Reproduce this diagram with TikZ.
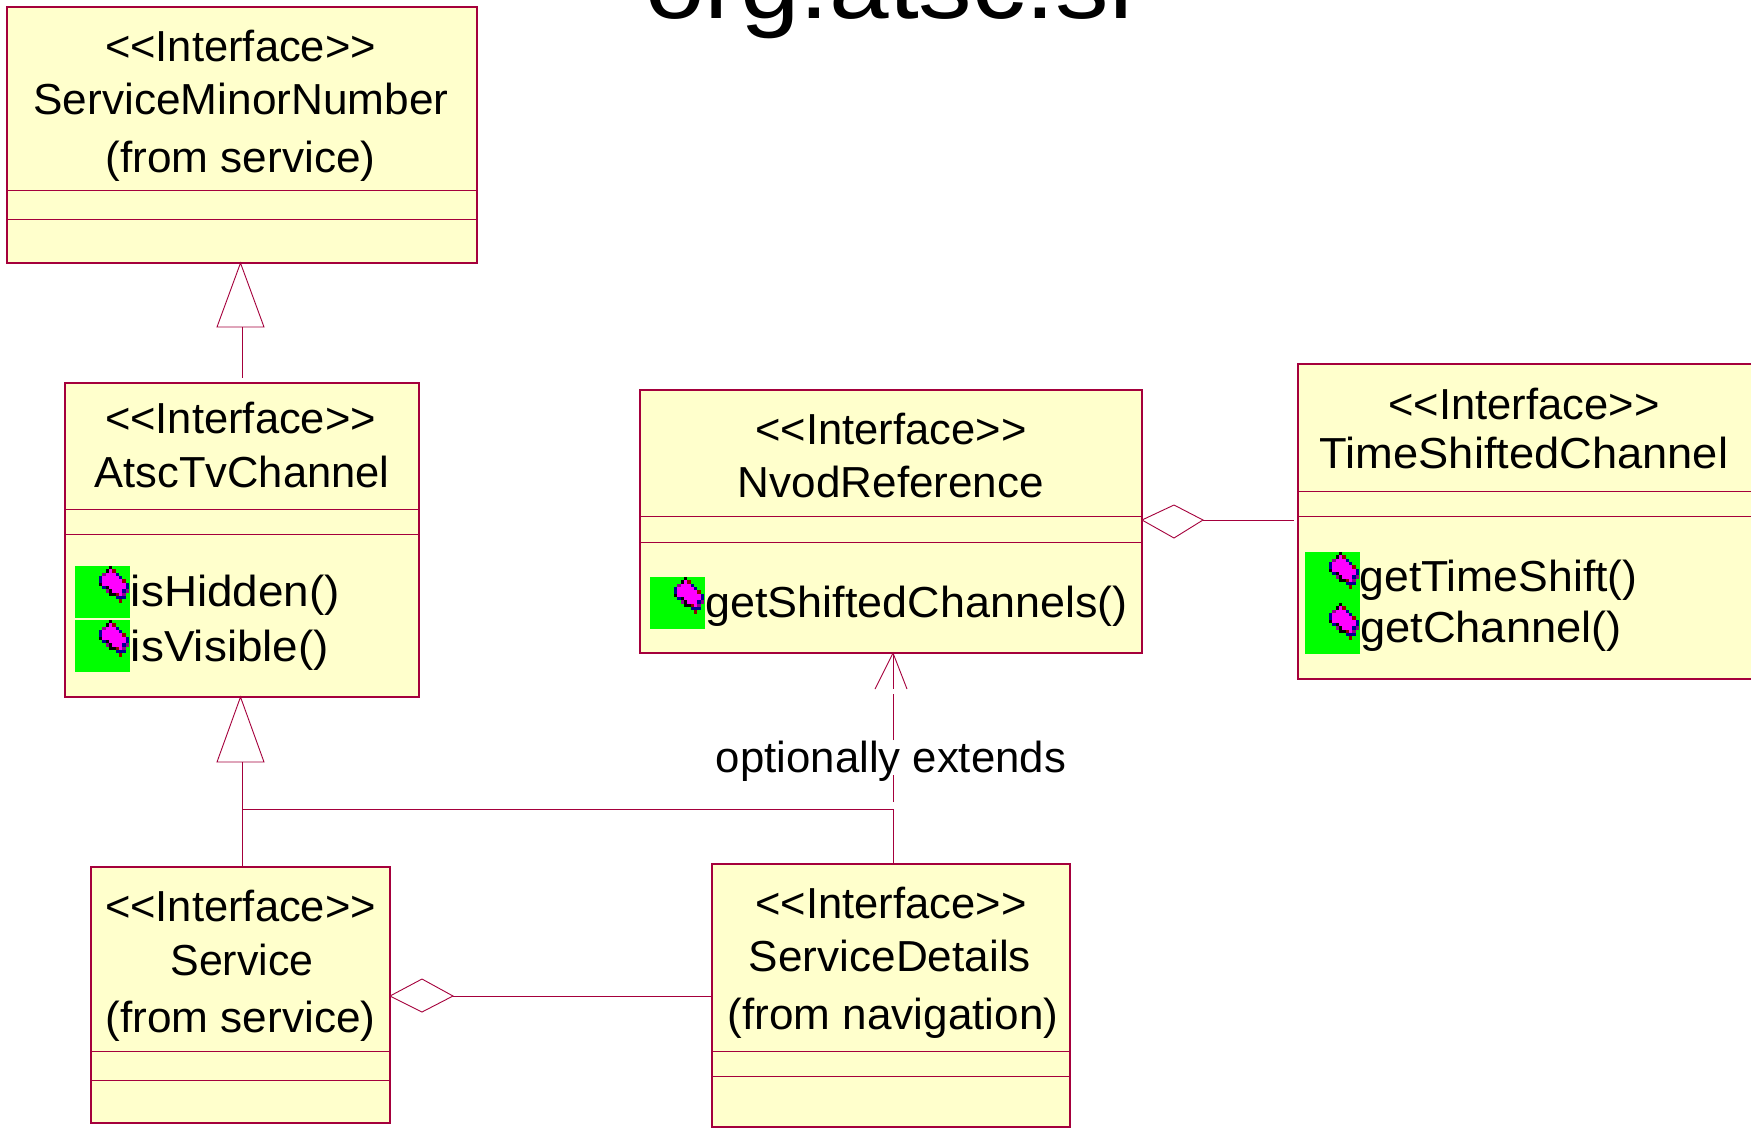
\documentclass[tikz,border=0pt]{standalone}
\usepackage{fontspec}
\setmainfont{Liberation Sans}
\definecolor{umlline}{HTML}{A5003C}
\definecolor{umlfill}{HTML}{FFFFCC}
\definecolor{icgreen}{HTML}{00FF00}
\definecolor{icmag}{HTML}{FF00FF}
\definecolor{icblue}{HTML}{000090}
\definecolor{icred}{HTML}{900000}
\definecolor{icpur}{HTML}{900090}
\tikzset{
  classbox/.style={draw=umlline,fill=umlfill,line width=1.3pt,anchor=north west,inner sep=0pt,outer sep=0pt},
  sep/.style={draw=umlline,line width=0.9pt},
  conn/.style={draw=umlline,line width=0.9pt},
  tl/.style={anchor=base,inner sep=0pt,outer sep=0pt,text=black,font=\fontsize{43.4}{48}\selectfont},
  greenbox/.style={fill=icgreen},
  opicon/.pic={
    \foreach \px/\py/\pc in {3/0/black,2/1/black,3/1/icmag,4/1/icred,
      1/2/icpur,2/2/icmag,3/2/icmag,4/2/icmag,5/2/icblue,
      0/3/icblue,1/3/icmag,2/3/icmag,3/3/icmag,4/3/icmag,5/3/icmag,6/3/icblue,
      0/4/icblue,1/4/icmag,2/4/icmag,3/4/icmag,4/4/icmag,5/4/icmag,6/4/icmag,7/4/icred,
      0/5/black,1/5/icmag,2/5/icmag,3/5/icmag,4/5/icmag,5/5/icmag,6/5/icmag,7/5/icmag,8/5/icblue,
      1/6/icblue,2/6/black,3/6/icmag,4/6/icmag,5/6/icmag,6/6/icmag,7/6/icmag,8/6/icblue,
      2/7/icpur,3/7/black,4/7/icmag,5/7/icmag,6/7/icmag,7/7/icblue,8/7/icpur,
      3/8/black,4/8/black,5/8/icred,6/8/icmag,7/8/icpur,
      5/9/icblue,6/9/icblue,7/9/icblue,6/10/icred}
      {\fill[\pc] ({24+3.33*\px},{3.33*\py}) rectangle +(3.4,3.4);}
  }
}
\newcommand{\cbox}[5]{\node[classbox,minimum width=#4 pt-#2 pt,minimum height=#5 pt-#3 pt] (#1) at (#2,#3) {};}
\newcommand{\tline}[5]{\node[tl] (#1) at (#2,#3) {\resizebox{#4pt}{\height}{#5}};}
\begin{document}
\begin{tikzpicture}[x=1pt,y=-1pt]
\useasboundingbox (0,0) rectangle (1751,1128);
\clip (0,0) rectangle (1751,1128);
\fill[white] (0,0) rectangle (1751,1128);

\node[anchor=base,inner sep=0pt,font=\fontsize{98}{104}\selectfont] (title) at (889,18) {\resizebox{488pt}{\height}{org.atsc.si}};

% class boxes
\cbox{smn}{7}{7}{477}{263}
\cbox{atsc}{65}{383}{419}{697}
\cbox{nvod}{640}{390}{1142}{653}
\cbox{tsc}{1298}{364}{1770}{679}
\cbox{svc}{91}{867}{390}{1123}
\cbox{sdt}{712}{864}{1070}{1127}

% compartments
\draw[sep] (7,190) -- (477,190) (7,219) -- (477,219);
\draw[sep] (65,509) -- (419,509) (65,534) -- (419,534);
\draw[sep] (640,516) -- (1142,516) (640,542) -- (1142,542);
\draw[sep] (1298,491) -- (1751,491) (1298,516) -- (1751,516);
\draw[sep] (91,1051) -- (390,1051) (91,1080) -- (390,1080);
\draw[sep] (712,1051) -- (1070,1051) (712,1076) -- (1070,1076);

% icons
\fill[greenbox] (75,566) rectangle (130,618);
\fill[greenbox] (75,620) rectangle (130,672);
\fill[greenbox] (650,577) rectangle (705,629);
\fill[greenbox] (1305,552) rectangle (1360,654);
\pic at (75,566) {opicon};
\pic at (75,620) {opicon};
\pic at (650,577) {opicon};
\pic at (1305,552) {opicon};
\pic at (1305,603) {opicon};

% texts
\tline{a1}{240.5}{61}{271}{<{}<Interface>{}>}
\tline{a2}{241}{114}{415}{ServiceMinorNumber}
\tline{a3}{240.5}{172}{270}{(from service)}
\tline{b1}{240.5}{433}{271}{<{}<Interface>{}>}
\tline{b2}{242}{487}{295}{AtscTvChannel}
\tline{b3}{235.5}{606.5}{209}{isHidden()}
\tline{b4}{230}{661}{198}{isVisible()}
\tline{c1}{891}{444}{271}{<{}<Interface>{}>}
\tline{c2}{891}{497}{306}{NvodReference}
\tline{c3}{916.5}{617}{422}{getShiftedChannels()}
\tline{d1}{1524}{419}{271}{<{}<Interface>{}>}
\tline{d2}{1524}{468}{408.5}{TimeShiftedChannel}
\tline{d3}{1498.5}{591}{278}{getTimeShift()}
\tline{d4}{1491}{642}{262}{getChannel()}
\tline{e1}{240.5}{921}{271}{<{}<Interface>{}>}
\tline{e2}{242}{975}{143}{Service}
\tline{e3}{240.5}{1032}{270}{(from service)}
\tline{f1}{891}{918}{271}{<{}<Interface>{}>}
\tline{f2}{890}{971.5}{282}{ServiceDetails}
\tline{f3}{893}{1029}{330.5}{(from navigation)}

% connectors
\coordinate (tri1) at (242,327);
\coordinate (tri2) at (242,762);
\coordinate (nvodin) at (893,653);
\coordinate (sdtdep) at (893,802);
\coordinate (sdtup) at (893,864);
\coordinate (junc) at (893,809);
\coordinate (jl) at (242,809);
\coordinate (dia1) at (1203,520);
\coordinate (dia2) at (453,996);
\coordinate (sdtw) at (712,996);
\coordinate (tscw) at (1294,520);

\draw[conn,fill=white] (240.5,263) -- (217,327) -- (264,327) -- cycle;
\draw[conn,shorten >=5pt] (tri1) -- (atsc.north);
\draw[conn,fill=white] (240.5,697) -- (217,762) -- (264,762) -- cycle;
\draw[conn] (tri2) -- (242,867);
\draw[conn] (jl) -- (junc) -- (sdtup);

\draw[conn] (sdtdep) -- (893,775);
\draw[conn] (893,740) -- (893,694);
\draw[conn] (893,689) -- (nvodin);
\draw[conn] (875,689) -- (nvodin) -- (907,689);
\node[tl] (lbl) at (891,772) {\resizebox{350pt}{\height}{optionally extends}};

\draw[conn,fill=white] (1142,520) -- (1174,505) -- (dia1) -- (1174,538) -- cycle;
\draw[conn] (dia1) -- (tscw);
\draw[conn,fill=white] (390,996) -- (422,979) -- (dia2) -- (422,1012) -- cycle;
\draw[conn] (dia2) -- (sdtw);
\end{tikzpicture}
\end{document}
